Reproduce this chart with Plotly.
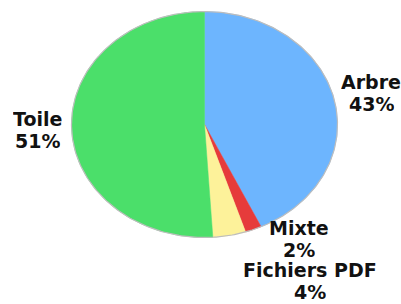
import numpy as np
import plotly.graph_objects as go

labels = ["Arbre", "Mixte", "Fichiers PDF", "Toile"]
values = [43, 2, 4, 51]
colors = ["#6DB5FE", "#E63B3B", "#FDF29A", "#4BDF6A"]

W, H = 401, 304
# label placement in pixels: (center x, name line y, percent line y)
label_px = {
    "Arbre": (371, 82, 104),
    "Mixte": (299, 228, 250),
    "Fichiers PDF": (310, 270, 292),
    "Toile": (37, 119, 141),
}

cx, cy = 204.5, 124.5
rx, ry = 133.0, 113.0

fig = go.Figure()

total = sum(values)
start = 0.0
for lab, v, c in zip(labels, values, colors):
    a0 = start / total * 2 * np.pi
    a1 = (start + v) / total * 2 * np.pi
    n = max(int((a1 - a0) / (2 * np.pi) * 360), 4)
    t = np.linspace(a0, a1, n)
    xs = np.concatenate([[0], np.sin(t), [0]])
    ys = np.concatenate([[0], np.cos(t), [0]])
    fig.add_trace(go.Scatter(x=xs, y=ys, fill="toself", fillcolor=c,
                             mode="lines", line=dict(color=c, width=0.5),
                             hoverinfo="text", text=f"{lab} {v}%",
                             showlegend=False))
    start += v

# outline
t = np.linspace(0, 2 * np.pi, 361)
fig.add_trace(go.Scatter(x=np.sin(t), y=np.cos(t), mode="lines",
                         line=dict(color="#BDBDBD", width=1.2),
                         hoverinfo="skip", showlegend=False))

font = dict(family="DejaVu Sans", size=19, color="#111111")
for lab, v in zip(labels, values):
    px, y1, y2 = label_px[lab]
    for txt, yy in ((lab, y1), (f"{v}%", y2)):
        fig.add_annotation(x=px / W, y=1 - yy / H, xref="paper", yref="paper",
                           text=f"<b>{txt}</b>", showarrow=False, height=18,
                           borderpad=0,
                           xanchor="center", yanchor="middle", font=font)

fig.update_layout(
    width=W, height=H,
    margin=dict(l=0, r=0, t=0, b=0),
    paper_bgcolor="white", plot_bgcolor="white",
    xaxis=dict(range=[-cx / rx, (W - cx) / rx], visible=False, fixedrange=True),
    yaxis=dict(range=[-(H - cy) / ry, cy / ry], visible=False, fixedrange=True),
)

fig.write_html("out.html", config={"displayModeBar": False},
               post_script="document.body.style.margin='0';document.body.style.overflow='hidden';")
